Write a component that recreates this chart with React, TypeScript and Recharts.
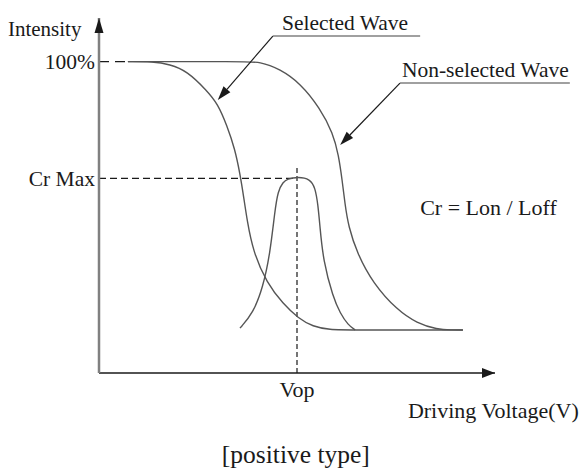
import { LineChart, Line, XAxis, YAxis, ReferenceLine, ReferenceDot } from "recharts";

// Selected wave (intensity vs. driving voltage)
const selectedVolt = [0.73, 1.36, 1.79, 2.22, 2.73, 3.0, 3.23, 3.43, 3.56, 3.66, 3.74, 3.89, 4.24, 4.65, 5.03, 5.4, 5.83, 6.3, 9.19];
const selectedInt = [100, 100, 99.1, 97.0, 90.6, 86.4, 79.5, 72.0, 64.0, 56.0, 49.0, 39.0, 28.8, 22.2, 17.6, 14.9, 13.9, 13.8, 13.8];

// Non-selected wave
const nonSelVolt = [0.73, 3.6, 4.07, 4.57, 5.08, 5.58, 5.91, 6.05, 6.14, 6.21, 6.3, 6.52, 6.92, 7.53, 8.03, 8.54, 8.9, 9.19];
const nonSelInt = [100, 100, 100, 97.6, 93.1, 85.1, 77.0, 70.0, 62.0, 54.4, 47.0, 38.4, 28.8, 20.2, 16.0, 14.0, 13.8, 13.8];

// Contrast ratio curve
const crVolt = [3.56, 3.89, 4.14, 4.32, 4.44, 4.52, 4.65, 4.75, 5.03, 5.33, 5.46, 5.53, 5.58, 5.66, 5.91, 6.09, 6.29, 6.47];
const crInt = [14.4, 19.2, 27.5, 38.4, 52.0, 58.5, 61.3, 62.3, 63.0, 62.3, 59.5, 54.0, 47.0, 36.2, 24.3, 19.2, 15.4, 13.8];

const CR_MAX = 62.5;
const FULL = 100;
const VOP = 5.0;
const yTicks = [CR_MAX, FULL];
const yTickLabels = ["Cr Max", "100%"];
const xTicks = [VOP];
const xTickLabels = ["Vop"];

const toPoints = (v: number[], i: number[]) => v.map((x, k) => ({ v: x, i: i[k] }));

const FONT = "'Liberation Serif', 'Times New Roman', serif";
const INK = "#1a1a1a";
const CURVE = "#555";

const textShape = (label: string, size = 21.5, anchor: "start" | "middle" | "end" = "start") =>
  (props: any) => (
    <text x={props.cx} y={props.cy} fontFamily={FONT} fontSize={size} fill={INK} textAnchor={anchor}>
      {label}
    </text>
  );

const ArrowLine = (props: any) => {
  const { x1, y1, x2, y2 } = props;
  const a = Math.atan2(y2 - y1, x2 - x1);
  const len = 14;
  const hw = 4.5;
  const bx = x2 - len * Math.cos(a);
  const by = y2 - len * Math.sin(a);
  const px = -Math.sin(a) * hw;
  const py = Math.cos(a) * hw;
  return (
    <g>
      <line x1={x1} y1={y1} x2={bx} y2={by} stroke={INK} strokeWidth={1.2} />
      <polygon points={`${x2},${y2} ${bx + px},${by + py} ${bx - px},${by - py}`} fill={INK} />
    </g>
  );
};

export default function App() {
  const selected = toPoints(selectedVolt, selectedInt);
  const nonSelected = toPoints(nonSelVolt, nonSelInt);
  const contrast = toPoints(crVolt, crInt);

  return (
    <div style={{ position: "absolute", left: 0, top: 0, width: 584, height: 473, background: "#fff" }}>
      <LineChart width={584} height={473} margin={{ top: 18, right: 89, bottom: 0, left: 0 }}>
        <XAxis
          type="number"
          dataKey="v"
          domain={[0, 10]}
          ticks={xTicks}
          tickLine={false}
          tickSize={0}
          tickMargin={4}
          height={100}
          axisLine={{ stroke: INK, strokeWidth: 1.5 }}
          tick={(p: any) => (
            <text x={p.x} y={p.y + 20} textAnchor="middle" fontFamily={FONT} fontSize={22} fill={INK}>
              {xTickLabels[xTicks.indexOf(p.payload.value)]}
            </text>
          )}
        />
        <YAxis
          type="number"
          dataKey="i"
          domain={[0, 114]}
          ticks={yTicks}
          tickLine={false}
          tickSize={0}
          tickMargin={4}
          width={99}
          axisLine={{ stroke: "#808080", strokeWidth: 2.5 }}
          tick={(p: any) => (
            <text x={p.x} y={p.y} dy="0.35em" textAnchor="end" fontFamily={FONT} fontSize={21.5} fill={INK}>
              {yTickLabels[yTicks.indexOf(p.payload.value)]}
            </text>
          )}
        />

        {/* guide lines */}
        <ReferenceLine segment={[{ x: 0, y: FULL }, { x: 0.73, y: FULL }]} stroke={INK} strokeWidth={1.2} strokeDasharray="10 6" />
        <ReferenceLine segment={[{ x: 0, y: CR_MAX }, { x: VOP, y: CR_MAX }]} stroke={INK} strokeWidth={1.2} strokeDasharray="7 4" />
        <ReferenceLine segment={[{ x: VOP, y: 0 }, { x: VOP, y: 66.5 }]} stroke={INK} strokeWidth={1.2} strokeDasharray="5 3" />

        <Line data={selected} dataKey="i" type="basis" stroke={CURVE} strokeWidth={1.4} dot={false} isAnimationActive={false} />
        <Line data={nonSelected} dataKey="i" type="basis" stroke={CURVE} strokeWidth={1.4} dot={false} isAnimationActive={false} />
        <Line data={contrast} dataKey="i" type="basis" stroke={CURVE} strokeWidth={1.4} dot={false} isAnimationActive={false} />

        {/* axis arrow heads */}
        <ReferenceDot
          x={0}
          y={114}
          ifOverflow="visible"
          shape={(p: any) => <polygon points={`${p.cx},${p.cy} ${p.cx - 4.5},${p.cy + 15} ${p.cx + 4.5},${p.cy + 15}`} fill={INK} />}
        />
        <ReferenceDot
          x={10}
          y={0}
          ifOverflow="visible"
          shape={(p: any) => <polygon points={`${p.cx},${p.cy} ${p.cx - 13},${p.cy - 5} ${p.cx - 13},${p.cy + 5}`} fill={INK} />}
        />

        {/* annotations */}
        <ReferenceLine segment={[{ x: 4.39, y: 108.2 }, { x: 8.11, y: 108.2 }]} stroke="#808080" strokeWidth={1.5} ifOverflow="visible" />
        <ReferenceLine segment={[{ x: 4.39, y: 108.2 }, { x: 3.0, y: 87.7 }]} shape={ArrowLine} ifOverflow="visible" />
        <ReferenceLine segment={[{ x: 7.6, y: 93.1 }, { x: 11.89, y: 93.1 }]} stroke="#808080" strokeWidth={1.5} ifOverflow="visible" />
        <ReferenceLine segment={[{ x: 7.6, y: 93.1 }, { x: 6.09, y: 73.2 }]} shape={ArrowLine} ifOverflow="visible" />

        <ReferenceDot x={-2.3} y={108.2} ifOverflow="visible" shape={textShape("Intensity", 21)} />
        <ReferenceDot x={4.62} y={110.1} ifOverflow="visible" shape={textShape("Selected Wave")} />
        <ReferenceDot x={7.65} y={95.1} ifOverflow="visible" shape={textShape("Non-selected Wave")} />
        <ReferenceDot x={8.11} y={50.7} ifOverflow="visible" shape={textShape("Cr = Lon / Loff", 22)} />
        <ReferenceDot x={7.8} y={-14.5} ifOverflow="visible" shape={textShape("Driving Voltage(V)", 22)} />
        <ReferenceDot x={4.97} y={-28.9} ifOverflow="visible" shape={textShape("[positive type]", 25.5, "middle")} />
      </LineChart>
    </div>
  );
}
